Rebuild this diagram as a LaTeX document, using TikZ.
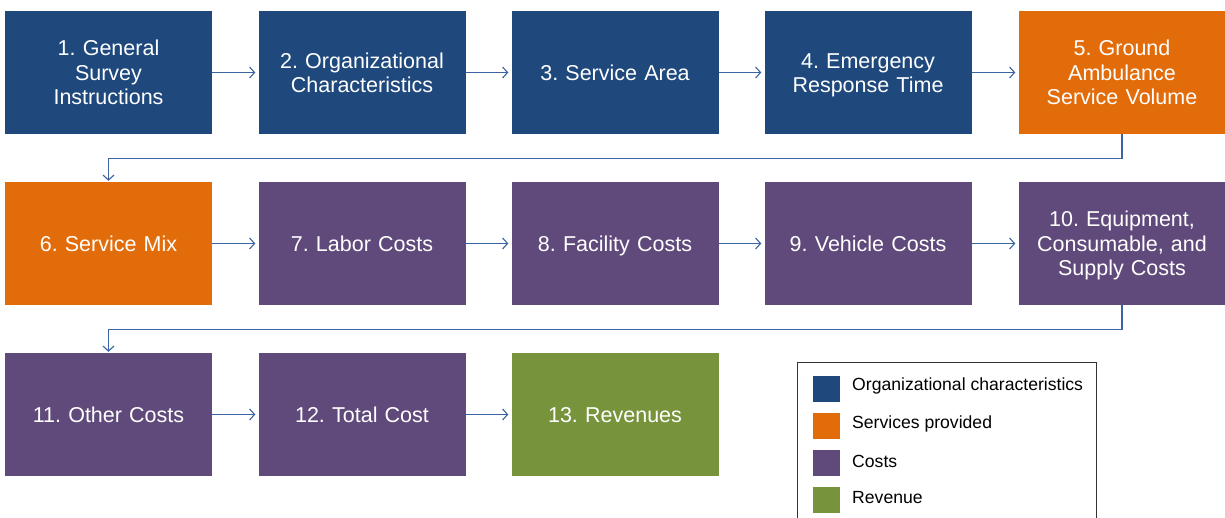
\documentclass[tikz,border=0pt]{standalone}
\usepackage{fontspec}
\setmainfont{Liberation Sans}
\usetikzlibrary{arrows.meta}
\definecolor{cblue}{RGB}{31,73,125}
\definecolor{corange}{RGB}{227,108,10}
\definecolor{cpurple}{RGB}{96,74,123}
\definecolor{cgreen}{RGB}{119,147,60}
\definecolor{carrow}{RGB}{60,100,160}
\frenchspacing
\begin{document}
\begin{tikzpicture}[x=1pt,y=-1pt,
  stepbox/.style={rectangle, minimum width=207pt, minimum height=123pt, inner sep=0pt,
    text=white, align=center, text width=204pt, font=\fontsize{21.5}{24.5}\selectfont,
    execute at begin node={\rule{0pt}{23pt}}, execute at end node=\strut},
  bluebox/.style={stepbox, fill=cblue},
  orangebox/.style={stepbox, fill=corange},
  purplebox/.style={stepbox, fill=cpurple},
  greenbox/.style={stepbox, fill=cgreen},
  conn/.style={draw=carrow, line width=1.1pt, -{Straight Barb[length=5pt,width=11pt]}, shorten >=3pt},
  swatch/.style={rectangle, minimum width=27pt, minimum height=26pt, inner sep=0pt},
  legtext/.style={anchor=west, inner sep=0pt, font=\fontsize{17.6}{20}\selectfont}
]
\clip (0,0) rectangle (1225,518);
\fill[white] (0,0) rectangle (1225,518);
% row 1
\node[bluebox] (b1) at (108.5,72.5) {1. General\\Survey\\Instructions};
\node[bluebox] (b2) at (362,72.5) {2. Organizational\\Characteristics};
\node[bluebox] (b3) at (615,72.5) {3. Service Area};
\node[bluebox] (b4) at (868,72.5) {4. Emergency\\Response Time};
\node[orangebox] (b5) at (1122,72.5) {5. Ground\\Ambulance\\Service Volume};
% row 2
\node[orangebox] (b6) at (108.5,243.5) {6. Service Mix};
\node[purplebox] (b7) at (362,243.5) {7. Labor Costs};
\node[purplebox] (b8) at (615,243.5) {8. Facility Costs};
\node[purplebox] (b9) at (868,243.5) {9. Vehicle Costs};
\node[purplebox] (b10) at (1122,243.5) {10. Equipment,\\Consumable, and\\Supply Costs};
% row 3
\node[purplebox] (b11) at (108.5,414.5) {11. Other Costs};
\node[purplebox] (b12) at (362,414.5) {12. Total Cost};
\node[greenbox] (b13) at (615,414.5) {13. Revenues};
% connectors
\draw[conn] (b1) -- (b2);
\draw[conn] (b2) -- (b3);
\draw[conn] (b3) -- (b4);
\draw[conn] (b4) -- (b5);
\draw[conn, shorten >=1pt] (b5.south) -- ++(0,24) -| (b6.north);
\draw[conn] (b6) -- (b7);
\draw[conn] (b7) -- (b8);
\draw[conn] (b8) -- (b9);
\draw[conn] (b9) -- (b10);
\draw[conn, shorten >=1pt] (b10.south) -- ++(0,24) -| (b11.north);
\draw[conn] (b11) -- (b12);
\draw[conn] (b12) -- (b13);
% legend
\draw[line width=1pt, draw=black!80] (797,362) rectangle (1096,530);
\node[swatch, fill=cblue] (s1) at (826.5,389) {};
\node[swatch, fill=corange] (s2) at (826.5,426) {};
\node[swatch, fill=cpurple] (s3) at (826.5,463) {};
\node[swatch, fill=cgreen] (s4) at (826.5,500) {};
\node[legtext] (l1) at (852,386) {Organizational characteristics};
\node[legtext] (l2) at (852,424) {Services provided};
\node[legtext] (l3) at (852,461) {Costs};
\node[legtext] (l4) at (852,498) {Revenue};
\end{tikzpicture}
\end{document}
